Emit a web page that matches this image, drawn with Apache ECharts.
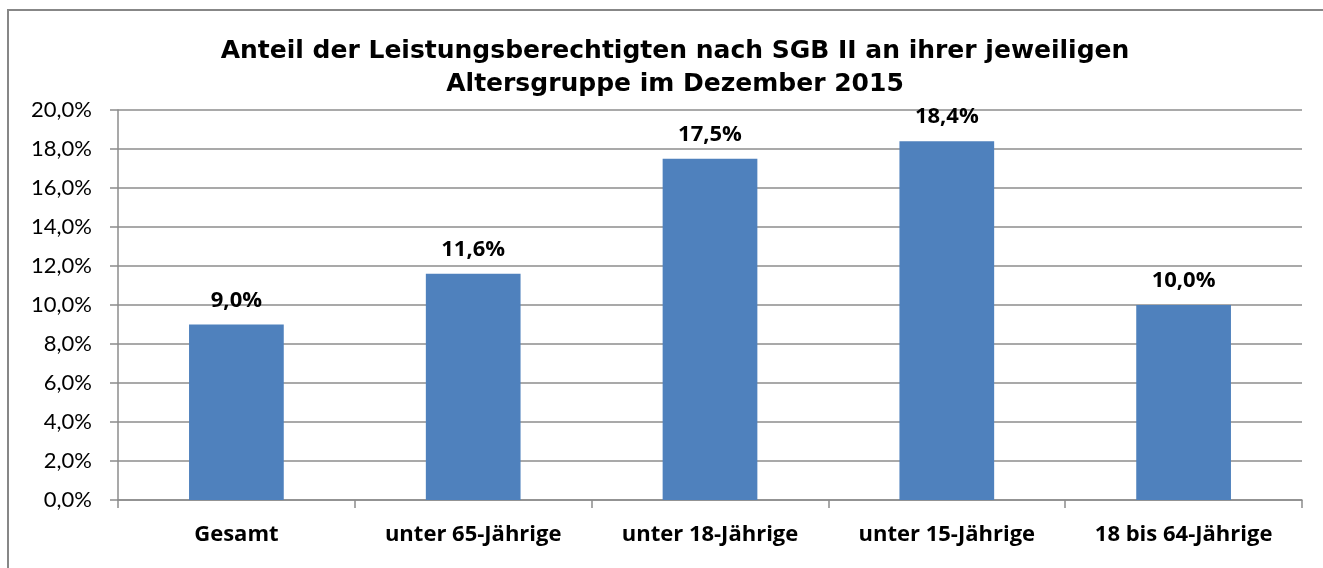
<!DOCTYPE html>
<html>
<head>
<meta charset="utf-8">
<script src="https://cdn.jsdelivr.net/npm/echarts@6/dist/echarts.min.js"></script>
<style>
html,body{margin:0;padding:0;background:#fff;}
#c{width:1323px;height:568px;}
</style>
</head>
<body>
<div id="c"></div>
<script>
const titleText = 'Anteil der Leistungsberechtigten nach SGB II an ihrer jeweiligen\nAltersgruppe im Dezember 2015';
const categories = ['Gesamt', 'unter 65-Jährige', 'unter 18-Jährige', 'unter 15-Jährige', '18 bis 64-Jährige'];
const values = [9.0, 11.6, 17.5, 18.4, 10.0];
const yMin = 0, yMax = 20, yStep = 2;

function pct(v){ return v.toFixed(1).replace('.', ',') + '%'; }

const chart = echarts.init(document.getElementById('c'));
chart.setOption({
  animation: false,
  backgroundColor: '#fff',
  title: {
    text: titleText,
    left: 670,
    textAlign: 'center',
    top: 30,
    textStyle: {fontFamily: 'DejaVu Sans', fontSize: 25, fontWeight: 'bold', color: '#000', lineHeight: 33}
  },
  graphic: [{
    type: 'rect', silent: true,
    shape: {x: 8, y: 10, width: 1400, height: 700},
    style: {fill: 'none', stroke: '#878787', lineWidth: 2}
  }],
  grid: {left: 118, right: 21, top: 110, bottom: 68},
  xAxis: {
    type: 'category',
    data: categories,
    axisLine: {lineStyle: {color: '#8c8c8c', width: 1.5}},
    axisTick: {show: true, length: 8, inside: false, lineStyle: {color: '#8c8c8c', width: 1.5}},
    axisLabel: {margin: 24, fontFamily: 'Open Sans', fontSize: 22, fontWeight: 'bold', color: '#000', interval: 0}
  },
  yAxis: {
    type: 'value', min: yMin, max: yMax, interval: yStep,
    axisLine: {show: true, lineStyle: {color: '#8c8c8c', width: 1.5}},
    axisTick: {show: true, length: 8, lineStyle: {color: '#8c8c8c', width: 1.5}},
    splitLine: {lineStyle: {color: '#8c8c8c', width: 1.5}},
    axisLabel: {margin: 26, fontFamily: 'Lato', fontSize: 22, color: '#000', formatter: v => pct(v)}
  },
  series: [{
    type: 'bar',
    data: values,
    barWidth: '40%',
    itemStyle: {color: '#4f81bd'},
    label: {show: true, position: 'top', distance: 13, fontFamily: 'Open Sans', fontSize: 22, fontWeight: 'bold', color: '#000', formatter: p => pct(p.value)}
  }]
});
</script>
</body>
</html>
